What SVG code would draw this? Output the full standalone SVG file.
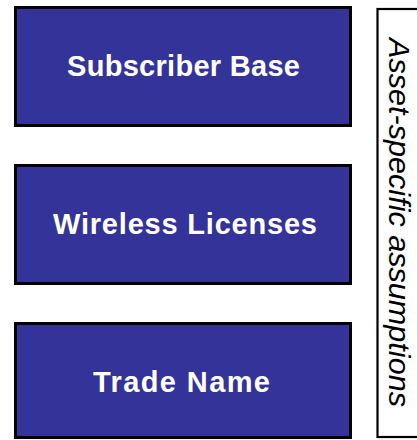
<svg xmlns="http://www.w3.org/2000/svg" width="417" height="440" viewBox="0 0 417 440">
<style>
.box{fill:#333399;stroke:#000;stroke-width:3}
.lbl{font-family:"Liberation Sans",Arial,sans-serif;font-weight:bold;font-size:29px;fill:#fff;text-anchor:middle}
.side{fill:#fff;stroke:#000;stroke-width:2.2}
.sidetxt{font-family:"Liberation Sans",Arial,sans-serif;font-style:italic;font-size:29px;fill:#000;text-anchor:middle}
</style>
<rect width="417" height="440" fill="#fff"/>
<g id="subscriber-base">
<rect class="box" x="15.5" y="7.5" width="335" height="118"/>
<text class="lbl" x="183.5" y="75.5" textLength="233" lengthAdjust="spacing">Subscriber Base</text>
</g>
<g id="wireless-licenses">
<rect class="box" x="15.5" y="165.5" width="335" height="118"/>
<text class="lbl" x="185" y="233.5" textLength="264" lengthAdjust="spacing">Wireless Licenses</text>
</g>
<g id="trade-name">
<rect class="box" x="15.5" y="323.5" width="335" height="114"/>
<text class="lbl" x="181.5" y="391.5" textLength="177" lengthAdjust="spacing">Trade Name</text>
</g>
<g id="asset-specific-assumptions">
<rect class="side" x="377.5" y="9" width="60" height="428"/>
<text class="sidetxt" transform="translate(389,222.5) rotate(90)" x="0" y="0" textLength="369" lengthAdjust="spacingAndGlyphs">Asset-specific assumptions</text>
</g>
<g id="connectors"></g>
</svg>
